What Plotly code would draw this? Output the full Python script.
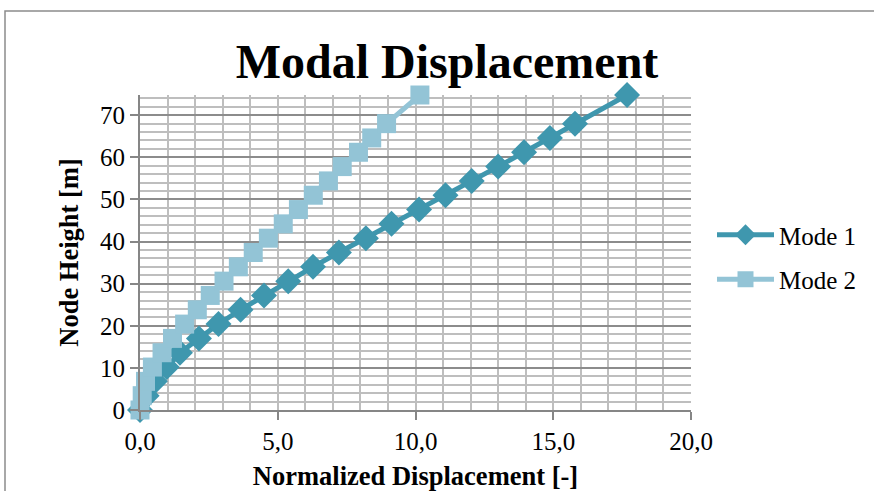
import plotly.graph_objects as go

# Node heights [m]
heights = [0.0, 3.4, 6.8, 10.2, 13.6, 17.0, 20.4, 23.8, 27.2, 30.6, 34.0,
           37.4, 40.8, 44.2, 47.6, 51.0, 54.4, 57.8, 61.2, 64.6, 68.0, 74.8]

# Normalized modal displacements [-]
mode1 = [0.0, 0.24, 0.54, 0.97, 1.45, 2.14, 2.85, 3.65, 4.5, 5.38, 6.28,
         7.22, 8.2, 9.13, 10.13, 11.09, 12.04, 13.0, 13.94, 14.88, 15.79, 17.68]
mode2 = [0.0, 0.08, 0.2, 0.45, 0.8, 1.18, 1.62, 2.08, 2.55, 3.05, 3.57,
         4.11, 4.66, 5.2, 5.75, 6.29, 6.84, 7.34, 7.93, 8.41, 8.95, 10.16]

x_ticks = [0, 5, 10, 15, 20]
x_ticklabels = ["0,0", "5,0", "10,0", "15,0", "20,0"]
y_ticks = [0, 10, 20, 30, 40, 50, 60, 70]

series_names = ["Mode 1", "Mode 2"]
c1 = "#3F97AE"
c2 = "#93C4D6"

font = "Liberation Serif, Times New Roman, serif"
fs = 25
fs_title = 26.5

fig = go.Figure()
fig.add_trace(go.Scatter(
    x=mode1, y=heights, name=series_names[0], mode="lines+markers",
    legendgroup="m1", cliponaxis=False,
    line=dict(color=c1, width=5),
    marker=dict(symbol="diamond", size=20, color=c1),
))
fig.add_trace(go.Scatter(
    x=mode2, y=heights, name=series_names[1], mode="lines+markers",
    legendgroup="m2", cliponaxis=False,
    line=dict(color=c2, width=5),
    marker=dict(symbol="square", size=19, color=c2),
))

L, R, T, B = 140, 183, 95, 81
W, H = 874, 491
pw, ph = W - L - R, H - T - B

fig.update_layout(
    width=W, height=H,
    margin=dict(l=L, r=R, t=T, b=B, pad=0),
    paper_bgcolor="white", plot_bgcolor="white",
    font=dict(family=font, color="black", size=fs),
    title=dict(text="<b>Modal Displacement</b>", x=(447 - L) / pw, xref="paper",
               xanchor="center", y=1 - 61 / H, yanchor="middle",
               font=dict(size=48, family=font)),
    showlegend=True,
    legend=dict(x=(712 - L) / pw, y=(410 - 257) / ph, xanchor="left", yanchor="middle",
                font=dict(size=fs, family=font), itemwidth=57,
                tracegroupgap=9, bgcolor="rgba(0,0,0,0)"),
    xaxis=dict(
        range=[0, 20], tickvals=x_ticks, ticktext=x_ticklabels,
        automargin=False,
        showgrid=True, gridcolor="#BEBEBE", gridwidth=2,
        minor=dict(dtick=1, showgrid=True, gridcolor="#BEBEBE", gridwidth=2),
        showline=True, linecolor="#868686", linewidth=2,
        ticks="outside", ticklen=8, tickcolor="#868686", tickwidth=1.5,
        zeroline=False,
        title=dict(text="<b>Normalized Displacement [-]</b>", standoff=14,
                   font=dict(size=fs_title, family=font)),
        tickfont=dict(size=fs, family=font),
    ),
    yaxis=dict(
        range=[0, 74.8], tickvals=y_ticks,
        automargin=False,
        showgrid=True, gridcolor="#8C8C8C", gridwidth=2,
        minor=dict(dtick=2, showgrid=True, gridcolor="#BEBEBE", gridwidth=2),
        showline=True, linecolor="#868686", linewidth=2,
        ticks="outside", ticklen=8, tickcolor="#868686", tickwidth=1.5,
        zeroline=False,
        title=dict(text="<b>Node Height [m]</b>", standoff=14,
                   font=dict(size=fs_title, family=font)),
        tickfont=dict(size=fs, family=font),
    ),
)

# chart frame
fig.add_shape(type="rect", xref="paper", yref="paper",
              x0=(5 - L) / pw, x1=(1000 - L) / pw,
              y0=-(1000 - (H - B)) / ph, y1=1 + (T - 11) / ph,
              line=dict(color="#8C8C8C", width=1.5), layer="below")

fig.write_html("out.html")
